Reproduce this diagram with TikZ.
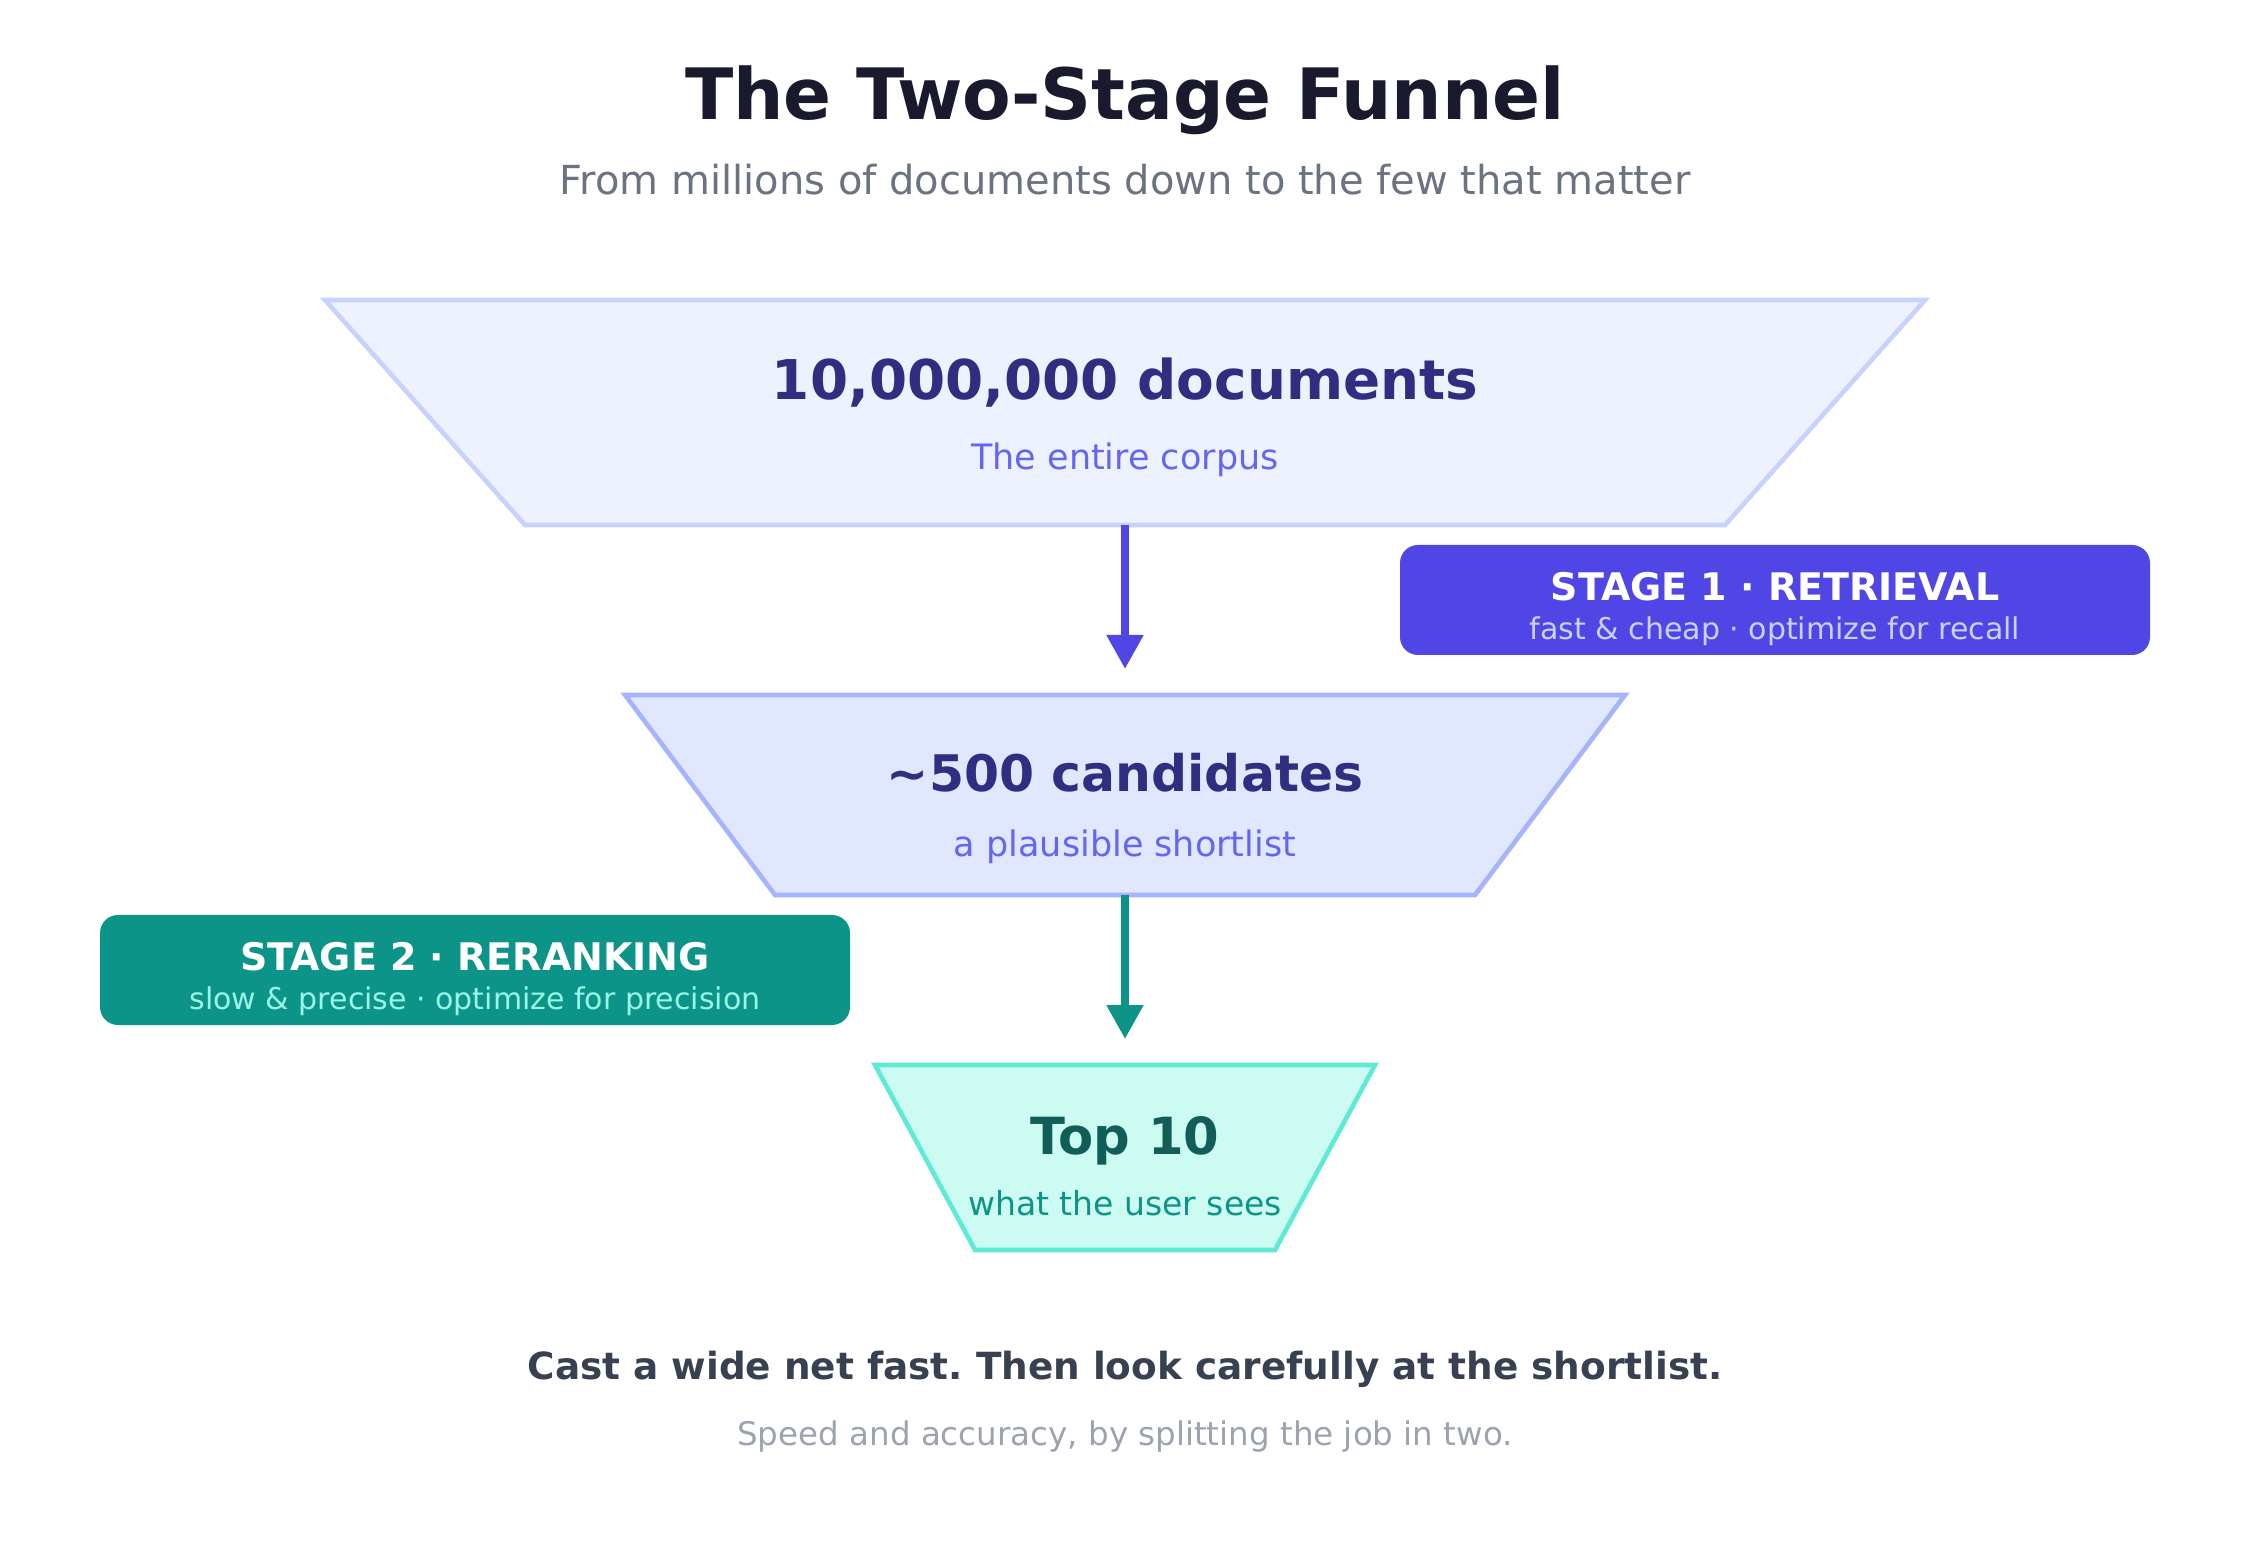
\documentclass[tikz,border=0pt]{standalone}
\usepackage{fontspec}
\setmainfont{DejaVu Sans}
\usetikzlibrary{arrows.meta}

\definecolor{titleink}{HTML}{1A1A2E}
\definecolor{greyink}{HTML}{6B7280}
\definecolor{paleink}{HTML}{9CA3AF}
\definecolor{slateink}{HTML}{374151}
\definecolor{indigodeep}{HTML}{312E81}
\definecolor{indigomid}{HTML}{6366F1}
\definecolor{indigostrong}{HTML}{4F46E5}
\definecolor{indigowash}{HTML}{EEF2FF}
\definecolor{indigoedge}{HTML}{C7D2FE}
\definecolor{indigosoft}{HTML}{E0E7FF}
\definecolor{indigoline}{HTML}{A5B4FC}
\definecolor{tealstrong}{HTML}{0D9488}
\definecolor{tealdeep}{HTML}{115E59}
\definecolor{tealwash}{HTML}{CCFBF1}
\definecolor{tealedge}{HTML}{5EEAD4}
\definecolor{tealsoft}{HTML}{99F6E4}

\tikzset{
  tier/.style={line width=2.3pt, line join=miter},
  flow/.style={line width=4pt, -{Triangle[length=17pt, width=17.5pt]}, shorten >=13pt},
  stagebox/.style={rounded corners=9pt, minimum width=375pt, minimum height=55pt, inner sep=0pt},
  txt/.style={inner sep=0pt, anchor=center, font=\frenchspacing},
}

\begin{document}
\begin{tikzpicture}[x=0.5pt, y=-0.5pt]
  \useasboundingbox (0,0) rectangle (2250,1550);

  \node[txt, titleink] (title) at (1125,100) {\fontsize{35.4}{40}\selectfont\bfseries The Two-Stage Funnel};
  \node[txt, greyink] (subtitle) at (1125,180) {\fontsize{20}{24}\selectfont From millions of documents down to the few that matter};

  % the three tiers of the funnel
  \draw[tier, draw=indigoedge, fill=indigowash] (325,300) -- (1925,300) -- (1725,525) -- (525,525) -- cycle;
  \coordinate (onebot) at (1125,525);
  \draw[tier, draw=indigoline, fill=indigosoft] (625,695) -- (1625,695) -- (1475,895) -- (775,895) -- cycle;
  \coordinate (twotop) at (1125,695);
  \coordinate (twobot) at (1125,895);
  \draw[tier, draw=tealedge, fill=tealwash] (875,1065) -- (1375,1065) -- (1275,1250) -- (975,1250) -- cycle;
  \coordinate (threetop) at (1125,1065);

  \node[txt, indigodeep] (onemain) at (1125,383) {\fontsize{27.4}{32}\selectfont\bfseries 10,000,000 documents};
  \node[txt, indigomid] (onesub) at (1125,460) {\fontsize{17.5}{21}\selectfont The entire corpus};
  \node[txt, indigodeep] (twomain) at (1125,773) {\fontsize{25.2}{30}\selectfont\bfseries \textasciitilde500 candidates};
  \node[txt, indigomid] (twosub) at (1125,847) {\fontsize{17.5}{21}\selectfont a plausible shortlist};
  \node[txt, tealdeep] (threemain) at (1125,1141) {\fontsize{25.6}{30}\selectfont\bfseries Top 10};
  \node[txt, tealstrong] (threesub) at (1125,1203) {\fontsize{16.5}{20}\selectfont what the user sees};

  \draw[flow, indigostrong] (onebot) -- (twotop);
  \draw[flow, tealstrong] (twobot) -- (threetop);

  % stage badges
  \node[stagebox, fill=indigostrong] (stageone) at (1775,600) {};
  \node[txt, white] (stageonelabel) at (1775,587) {\fontsize{19}{22}\selectfont\bfseries STAGE 1 · RETRIEVAL};
  \node[txt, indigoedge] (stageonesub) at (1775,631) {\fontsize{15}{18}\selectfont fast \& cheap · optimize for recall};

  \node[stagebox, fill=tealstrong] (stagetwo) at (475,970) {};
  \node[txt, white] (stagetwolabel) at (475,957) {\fontsize{19}{22}\selectfont\bfseries STAGE 2 · RERANKING};
  \node[txt, tealsoft] (stagetwosub) at (475,1001) {\fontsize{15}{18}\selectfont slow \& precise · optimize for precision};

  \node[txt, slateink] (moral) at (1125,1369) {\fontsize{18.7}{22}\selectfont\bfseries Cast a wide net fast. Then look carefully at the shortlist.};
  \node[txt, paleink] (moralsub) at (1125,1437) {\fontsize{16.25}{20}\selectfont Speed and accuracy, by splitting the job in two.};
\end{tikzpicture}
\end{document}
